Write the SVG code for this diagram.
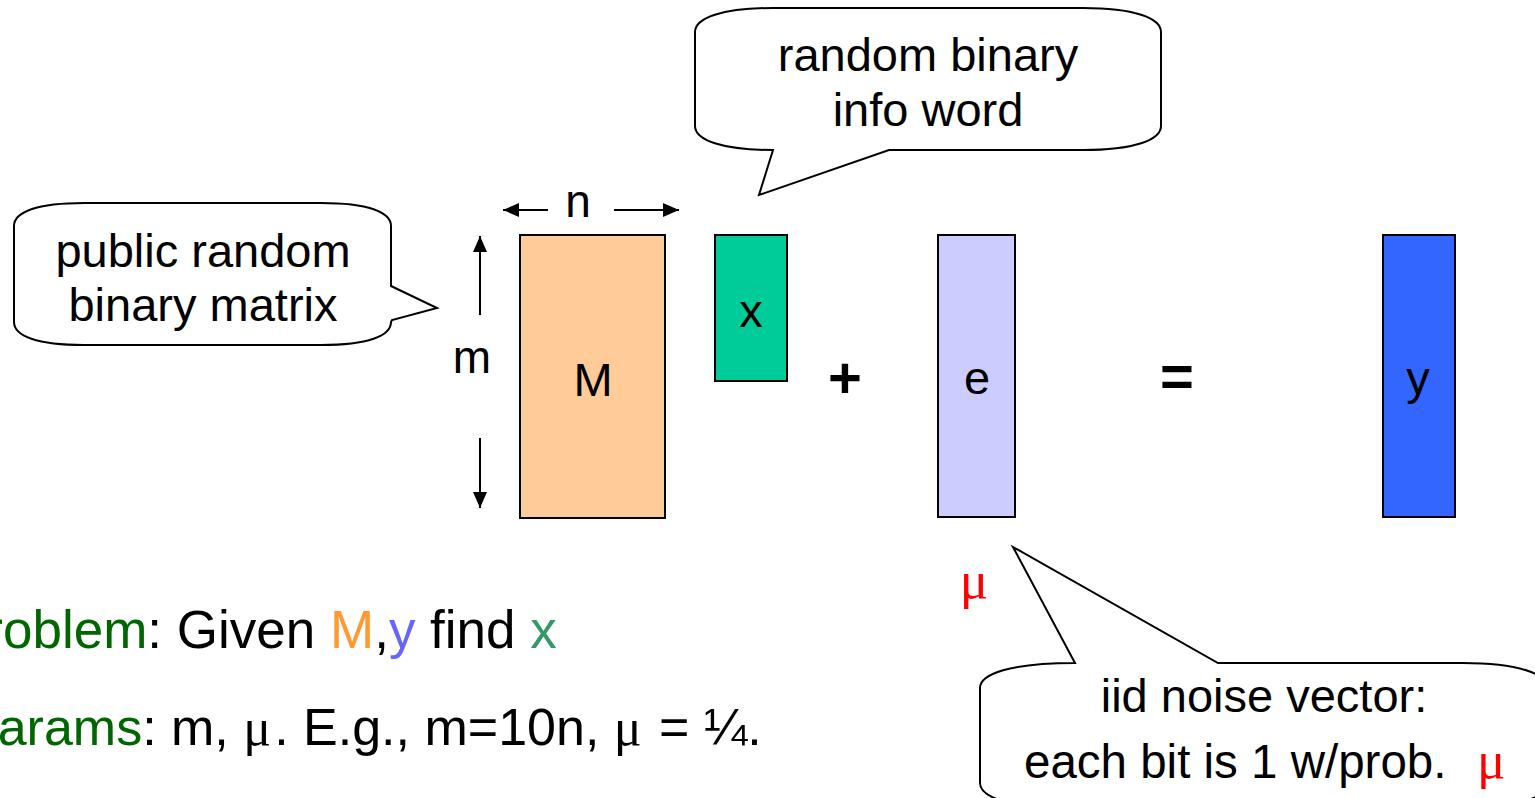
<svg xmlns="http://www.w3.org/2000/svg" width="1535" height="798" viewBox="0 0 1535 798">
  <style>
    text { font-family: "Liberation Sans", Arial, sans-serif; fill: #000; }
    .lbl { font-size: 47px; text-anchor: middle; }
    .dim { font-size: 46px; text-anchor: middle; }
    .op { font-size: 58px; font-weight: bold; text-anchor: middle; }
    .body { font-size: 53px; }
    .body2 { font-size: 52px; }
    .sym { font-family: "Liberation Serif", "Times New Roman", serif; }
    .mu { font-family: "Liberation Serif", "Times New Roman", serif; fill: #FF0000; font-size: 53px; }
    .vec { stroke: #000; stroke-width: 2; }
    .bubble { fill: #FFFFFF; stroke: #000; stroke-width: 2; stroke-linejoin: miter; }
    .dimline { stroke: #000; stroke-width: 2; fill: none; }
    .green { fill: #006600; }
  </style>
  <defs>
    <marker id="head" viewBox="0 0 16 14" refX="16" refY="7" markerWidth="16" markerHeight="14" markerUnits="userSpaceOnUse" orient="auto">
      <path d="M0,0 L16,7 L0,14 z" fill="#000"/>
    </marker>
  </defs>

  <!-- dimension arrows for the matrix -->
  <g id="connectors">
    <line class="dimline" x1="548" y1="210" x2="503" y2="210" marker-end="url(#head)"/>
    <line class="dimline" x1="614" y1="210" x2="679" y2="210" marker-end="url(#head)"/>
    <line class="dimline" x1="480" y1="315" x2="480" y2="236" marker-end="url(#head)"/>
    <line class="dimline" x1="480" y1="438" x2="480" y2="508" marker-end="url(#head)"/>
  </g>
  <g id="dim-labels">
    <text class="dim" x="578" y="217">n</text>
    <text class="dim" x="472" y="373">m</text>
  </g>

  <!-- matrix M -->
  <g id="matrix-M">
    <rect class="vec" x="520" y="235" width="145" height="283" fill="#FFCC99"/>
    <text class="lbl" x="593" y="396">M</text>
  </g>

  <!-- info word x -->
  <g id="vector-x">
    <rect class="vec" x="715" y="235" width="72" height="146" fill="#00CC99"/>
    <text class="lbl" x="751" y="327">x</text>
  </g>

  <g id="plus">
    <text class="op" x="845" y="398">+</text>
  </g>

  <!-- noise vector e -->
  <g id="vector-e">
    <rect class="vec" x="938" y="235" width="77" height="282" fill="#CCCCFF"/>
    <text class="lbl" x="977" y="394">e</text>
  </g>

  <g id="equals">
    <text class="op" x="1177" y="396">=</text>
  </g>

  <!-- output vector y -->
  <g id="vector-y">
    <rect class="vec" x="1383" y="235" width="72" height="282" fill="#3366FF"/>
    <text class="lbl" x="1418" y="394">y</text>
  </g>

  <g id="mu-label">
    <text class="mu" x="974" y="598" text-anchor="middle">μ</text>
  </g>

  <!-- callout: matrix -->
  <g id="callout-matrix">
    <path class="bubble" d="M84,203 L321,203 C368,203 391,212 391,226 L391,286 L437,308 L392,320 L391,322 C391,336 368,345 321,345 L84,345 C37,345 14,336 14,322 L14,226 C14,212 37,203 84,203 Z"/>
    <text class="lbl" x="203" y="267">public random</text>
    <text class="lbl" x="203" y="321">binary matrix</text>
  </g>

  <!-- callout: info word -->
  <g id="callout-info">
    <path class="bubble" d="M773,8 L1083,8 C1134,8 1161,18 1161,32 L1161,126 C1161,140 1134,150 1083,150 L889,150 L759,195 L773,150 C722,150 695,140 695,126 L695,32 C695,18 722,8 773,8 Z"/>
    <text class="lbl" x="928" y="71">random binary</text>
    <text class="lbl" x="928" y="126">info word</text>
  </g>

  <!-- callout: noise -->
  <g id="callout-noise">
    <path class="bubble" d="M1075,663 L1013,547 L1218,663 L1463,663 C1518,663 1548,674 1548,688 L1548,783 C1548,797 1518,808 1463,808 L1065,808 C1010,808 980,797 980,783 L980,688 C980,674 1010,663 1075,663 Z"/>
    <text class="lbl" x="1264" y="712">iid noise vector:</text>
    <text x="1024" y="778" style="font-size:47.5px">each bit is 1 w/prob.</text>
    <text class="mu" x="1477" y="778">μ</text>
  </g>

  <!-- problem statement -->
  <g id="statement">
    <text class="body" x="-50" y="648"><tspan class="green">Problem</tspan>: Given <tspan fill="#FF9933">M</tspan>,<tspan fill="#6666FF">y</tspan> find <tspan fill="#339966">x</tspan></text>
    <text class="body2" x="-37" y="745"><tspan class="green">Params</tspan>: m, <tspan class="sym">μ</tspan><tspan dx="3">. E.g., m=10n, </tspan><tspan class="sym">μ</tspan><tspan dx="3"> = ¼.</tspan></text>
  </g>
</svg>
